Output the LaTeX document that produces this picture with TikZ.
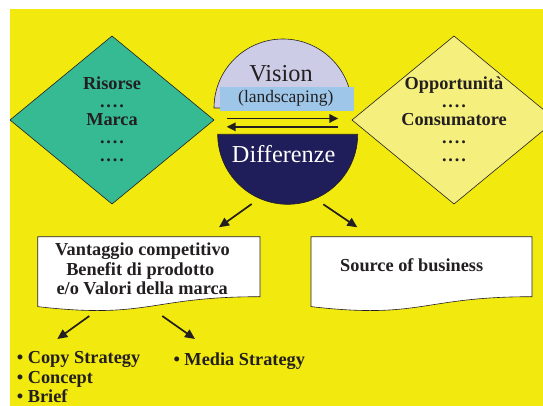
\documentclass[tikz,border=0pt]{standalone}
\usepackage{fontspec}
\setmainfont{Liberation Serif}
\usetikzlibrary{arrows.meta}

\definecolor{bgyellow}{RGB}{242,234,14}
\definecolor{teal}{RGB}{53,186,148}
\definecolor{paleyellow}{RGB}{245,239,125}
\definecolor{lavender}{RGB}{204,204,230}
\definecolor{lightblue}{RGB}{157,198,232}
\definecolor{navy}{RGB}{31,29,90}
\definecolor{ink}{RGB}{35,31,32}

\tikzset{
  outline/.style={draw=ink, line width=0.6pt},
  boldtxt/.style={font=\fontsize{18.3}{18}\selectfont\bfseries, text=ink, inner sep=0pt, anchor=base},
  bullettxt/.style={boldtxt, anchor=base west},
  bigtxt/.style={font=\fontsize{24.3}{26}\selectfont, inner sep=0pt, anchor=base},
  flow/.style={draw=ink, line width=1.7pt, -{Triangle[length=10pt,width=9pt]}},
  swap/.style={draw=ink, line width=1.6pt, -{Triangle[length=9pt,width=8.5pt]}},
}
\newcommand{\dotrow}{.\kern1.9pt.\kern1.9pt.\kern1.9pt.}

\begin{document}
\begin{tikzpicture}[x=1pt,y=-1pt]
\useasboundingbox (0,0) rectangle (543,406);
\clip (0,0) rectangle (543,406);

% background panel
\fill[bgyellow] (10,9) rectangle (543,406);

% left diamond: resources
\filldraw[fill=teal, outline] (112,36) -- (214,120) -- (112,204) -- (10,120) -- cycle;
\node[boldtxt] (ris) at (112,90) {Risorse};
\node[boldtxt] (risd1) at (112,108) {\dotrow};
\node[boldtxt] (marca) at (112,126) {Marca};
\node[boldtxt] (risd2) at (112,144) {\dotrow};
\node[boldtxt] (risd3) at (112,162) {\dotrow};

% right diamond: opportunities
\filldraw[fill=paleyellow, outline] (454,36) -- (556,120) -- (454,204) -- (352,120) -- cycle;
\node[boldtxt] (opp) at (454,90) {Opportunità};
\node[boldtxt] (oppd1) at (454,108) {\dotrow};
\node[boldtxt] (cons) at (454,126) {Consumatore};
\node[boldtxt] (oppd2) at (454,144) {\dotrow};
\node[boldtxt] (oppd3) at (454,162) {\dotrow};

% upper half of the central circle: vision
\filldraw[fill=lavender, outline] (214,108) arc[start angle=180, end angle=360, radius=69] -- cycle;
\fill[lightblue] (220,86.7) rectangle (354,111);
\node[bigtxt, text=ink] (vision) at (281,81.7) {Vision};
\node[font=\fontsize{17.5}{18}\selectfont, text=ink, inner sep=0pt, anchor=base] (land) at (285.8,102.7) {(landscaping)};

% lower half of the central circle: differences
\filldraw[fill=navy, outline] (217.7,134.3) arc[start angle=180, end angle=0, radius=70] -- cycle;
\node[bigtxt, text=white] (diff) at (283.7,162.3) {Differenze};

% two-way exchange between the halves
\coordinate (swapL1) at (226.7,118.5);
\coordinate (swapR1) at (338.3,118.5);
\coordinate (swapR2) at (338.3,126.8);
\coordinate (swapL2) at (226.7,126.8);
\draw[swap] (swapL1) -- (swapR1);
\draw[swap] (swapR2) -- (swapL2);

% document boxes
\filldraw[fill=white, outline] (37.7,236.7) -- (260,236.7) -- (260,296.7)
  .. controls (148.9,296.7) and (148.9,319.5) .. (37.7,306.6) -- cycle;
\filldraw[fill=white, outline] (311,236.7) -- (532,236.7) -- (532,296.7)
  .. controls (421.5,296.7) and (421.5,319.5) .. (311,306.6) -- cycle;

\node[boldtxt] (vant) at (142.5,255) {Vantaggio competitivo};
\node[boldtxt] (bene) at (140.3,275) {Benefit di prodotto};
\node[boldtxt] (valo) at (142.2,294.3) {e/o Valori della marca};
\node[boldtxt] (source) at (411.7,271.7) {Source of business};

% arrows from the circle to the boxes
\coordinate (diffL) at (251.7,204);
\coordinate (boxL) at (219,227.3);
\coordinate (diffR) at (323.3,204.3);
\coordinate (boxR) at (357.3,227.3);
\draw[flow] (diffL) -- (boxL);
\draw[flow] (diffR) -- (boxR);

% arrows from the first box to the strategies
\coordinate (vantL) at (89.3,316);
\coordinate (copyT) at (57.3,339);
\coordinate (vantR) at (162.3,316);
\coordinate (mediaT) at (195,339);
\draw[flow] (vantL) -- (copyT);
\draw[flow] (vantR) -- (mediaT);

% strategy lists
\node[bullettxt] (copy) at (16.7,363.3) {• Copy Strategy};
\node[bullettxt] (concept) at (16.7,383.3) {• Concept};
\node[bullettxt] (brief) at (16.7,402.3) {• Brief};
\node[bullettxt] (media) at (173.3,365.7) {• Media Strategy};
\end{tikzpicture}
\end{document}
